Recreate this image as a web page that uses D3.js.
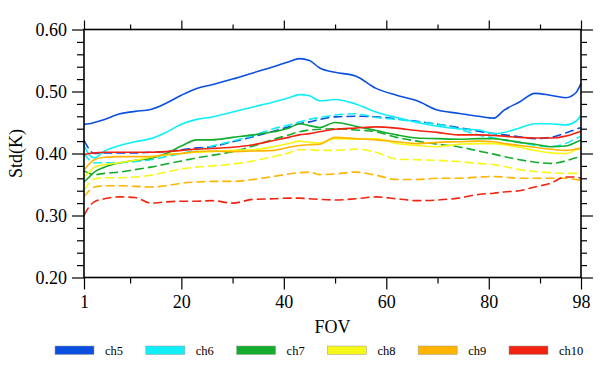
<!DOCTYPE html>
<html><head><meta charset="utf-8">
<script src="https://cdn.jsdelivr.net/npm/d3@7"></script>
<style>body{margin:0;background:#fff}svg{display:block}
svg text{font-family:"Liberation Serif","DejaVu Serif","Noto Serif","Times New Roman",Times,serif !important}</style>
</head><body><svg id="c" width="606" height="367"></svg>
<script>
const fov = [1,2,3,5,8,11,14,17,20,23,26,30,34,38,41,43,45,47,50,54,58,62,66,70,74,78,81,83,86,89,92,95,97,98];
const ch5s  = [.447,.448,.450,.455,.464,.468,.471,.481,.494,.505,.511,.520,.530,.540,.548,.553,.550,.538,.531,.525,.505,.494,.485,.470,.465,.460,.457,.470,.483,.497,.494,.490,.498,.513];
const ch5d  = [.421,.407,.400,.401,.401,.401,.402,.403,.406,.409,.411,.419,.427,.436,.443,.448,.451,.455,.459,.460,.459,.456,.452,.447,.442,.436,.432,.430,.427,.424,.426,.433,.439,.442];
const ch6s  = [.413,.398,.393,.404,.413,.419,.424,.434,.447,.455,.459,.467,.475,.483,.490,.495,.493,.485,.487,.480,.467,.458,.450,.444,.440,.438,.432,.434,.441,.448,.448,.446,.452,.462];
const ch6d  = [.400,.390,.385,.385,.385,.387,.390,.395,.400,.406,.412,.420,.429,.440,.446,.451,.455,.458,.462,.464,.458,.455,.451,.447,.440,.430,.425,.422,.418,.413,.411,.416,.424,.428];
const ch7s  = [.354,.362,.370,.378,.385,.389,.392,.400,.412,.422,.422,.426,.430,.435,.441,.448,.445,.442,.450,.444,.437,.430,.425,.424,.423,.424,.424,.422,.418,.415,.411,.412,.418,.422];
const ch7d  = [.372,.368,.366,.368,.370,.374,.378,.383,.388,.393,.397,.403,.412,.423,.430,.435,.438,.439,.440,.438,.435,.426,.420,.415,.411,.404,.399,.395,.390,.386,.384,.388,.393,.395];
const ch8s  = [.362,.370,.378,.382,.385,.389,.394,.398,.400,.402,.403,.405,.406,.411,.416,.420,.418,.417,.424,.423,.424,.416,.413,.411,.415,.416,.416,.414,.410,.405,.401,.400,.406,.411];
const ch8d  = [.341,.352,.359,.361,.361,.362,.365,.370,.375,.378,.380,.383,.388,.395,.401,.406,.406,.405,.405,.407,.402,.391,.390,.389,.387,.384,.382,.379,.374,.371,.369,.368,.368,.367];
const ch9s  = [.373,.383,.390,.394,.395,.395,.395,.398,.400,.403,.404,.403,.404,.405,.410,.413,.414,.415,.426,.424,.422,.419,.416,.418,.419,.420,.419,.416,.413,.410,.407,.405,.407,.408];
const ch9d  = [.330,.340,.346,.348,.348,.347,.346,.348,.352,.354,.355,.355,.358,.363,.367,.369,.370,.366,.367,.370,.365,.358,.358,.360,.360,.362,.363,.362,.360,.360,.360,.360,.358,.357];
const ch10s = [.398,.400,.401,.402,.402,.402,.402,.403,.405,.407,.408,.410,.414,.421,.426,.430,.432,.435,.439,.441,.443,.441,.437,.434,.430,.430,.429,.428,.426,.425,.425,.428,.433,.436];
const ch10d = [.300,.314,.322,.327,.330,.329,.320,.322,.323,.323,.324,.320,.326,.327,.328,.328,.327,.326,.325,.327,.330,.327,.324,.325,.328,.334,.336,.338,.340,.346,.352,.362,.362,.360];

const channels = ["ch5","ch6","ch7","ch8","ch9","ch10"];
const colors = ["#0a4fe0","#10eef8","#14ac2c","#f8f818","#ffb400","#f02410"];
const solid = [ch5s,ch6s,ch7s,ch8s,ch9s,ch10s];
const dashed = [ch5d,ch6d,ch7d,ch8d,ch9d,ch10d];
const xMajor = [1,20,40,60,80,98];
const xMinor = [10,30,50,70,90];
const yMajor = [0.2,0.3,0.4,0.5,0.6];
const yMinor = [0.22,0.24,0.26,0.28,0.32,0.34,0.36,0.38,0.42,0.44,0.46,0.48,0.52,0.54,0.56,0.58];

const svg = d3.select("#c");
const L=84,R=581,T=29.5,B=277.5;
const x = d3.scaleLinear().domain([1,98]).range([L,R]);
const y = d3.scaleLinear().domain([0.2,0.6]).range([B,T]);

const line = d3.line().x((d,i)=>x(fov[i])).y(d=>y(d)).curve(d3.curveMonotoneX);
const plot = svg.append("g");
for (let c=0;c<6;c++){
  plot.append("path").attr("d",line(dashed[c])).attr("fill","none").attr("stroke",colors[c])
    .attr("stroke-width",1.6).attr("stroke-dasharray","9,4");
}
for (let c=0;c<6;c++){
  plot.append("path").attr("d",line(solid[c])).attr("fill","none").attr("stroke",colors[c])
    .attr("stroke-width",1.6);
}

function styleAxis(g){g.attr("font-size",18);g.select(".domain").remove();
  g.selectAll("line").attr("stroke","#000").attr("stroke-width",1.2);
  g.selectAll("text").attr("fill","#000");}
svg.append("g").attr("transform",`translate(0,${B})`).call(d3.axisBottom(x).tickValues(xMajor).tickSize(12).tickPadding(6).tickFormat(d3.format("d"))).call(styleAxis);
svg.append("g").attr("transform",`translate(0,${B})`).call(d3.axisBottom(x).tickValues(xMinor).tickSize(6).tickFormat("")).call(styleAxis);
svg.append("g").attr("transform",`translate(0,${T})`).call(d3.axisTop(x).tickValues(xMajor).tickSize(9).tickFormat("")).call(styleAxis);
svg.append("g").attr("transform",`translate(0,${T})`).call(d3.axisTop(x).tickValues(xMinor).tickSize(5).tickFormat("")).call(styleAxis);
svg.append("g").attr("transform",`translate(${L},0)`).call(d3.axisLeft(y).tickValues(yMajor).tickSize(12).tickPadding(5).tickFormat(d3.format(".2f"))).call(styleAxis);
svg.append("g").attr("transform",`translate(${L},0)`).call(d3.axisLeft(y).tickValues(yMinor).tickSize(7).tickFormat("")).call(styleAxis);
svg.append("g").attr("transform",`translate(${R},0)`).call(d3.axisRight(y).tickValues(yMajor).tickSize(12).tickFormat("")).call(styleAxis);
svg.append("g").attr("transform",`translate(${R},0)`).call(d3.axisRight(y).tickValues(yMinor).tickSize(6).tickFormat("")).call(styleAxis);

svg.append("rect").attr("x",L).attr("y",T).attr("width",R-L).attr("height",B-T)
  .attr("fill","none").attr("stroke","#000").attr("stroke-width",1.6);

svg.append("text").attr("x",(L+R)/2).attr("y",333).attr("text-anchor","middle").attr("font-size",18).text("FOV");
svg.append("text").attr("transform",`translate(22,${(T+B)/2}) rotate(-90)`).attr("text-anchor","middle").attr("font-size",18).text("Std(K)");

const lg = svg.append("g");
channels.forEach((ch,i)=>{
  const bx = 55 + i*90.8;
  lg.append("rect").attr("x",bx).attr("y",346).attr("width",39).attr("height",8.5)
    .attr("fill",colors[i]).attr("stroke","#999").attr("stroke-width",0.5);
  lg.append("text").attr("x",bx+50).attr("y",354.5).attr("font-size",12.5).text(ch);
});
</script></body></html>
